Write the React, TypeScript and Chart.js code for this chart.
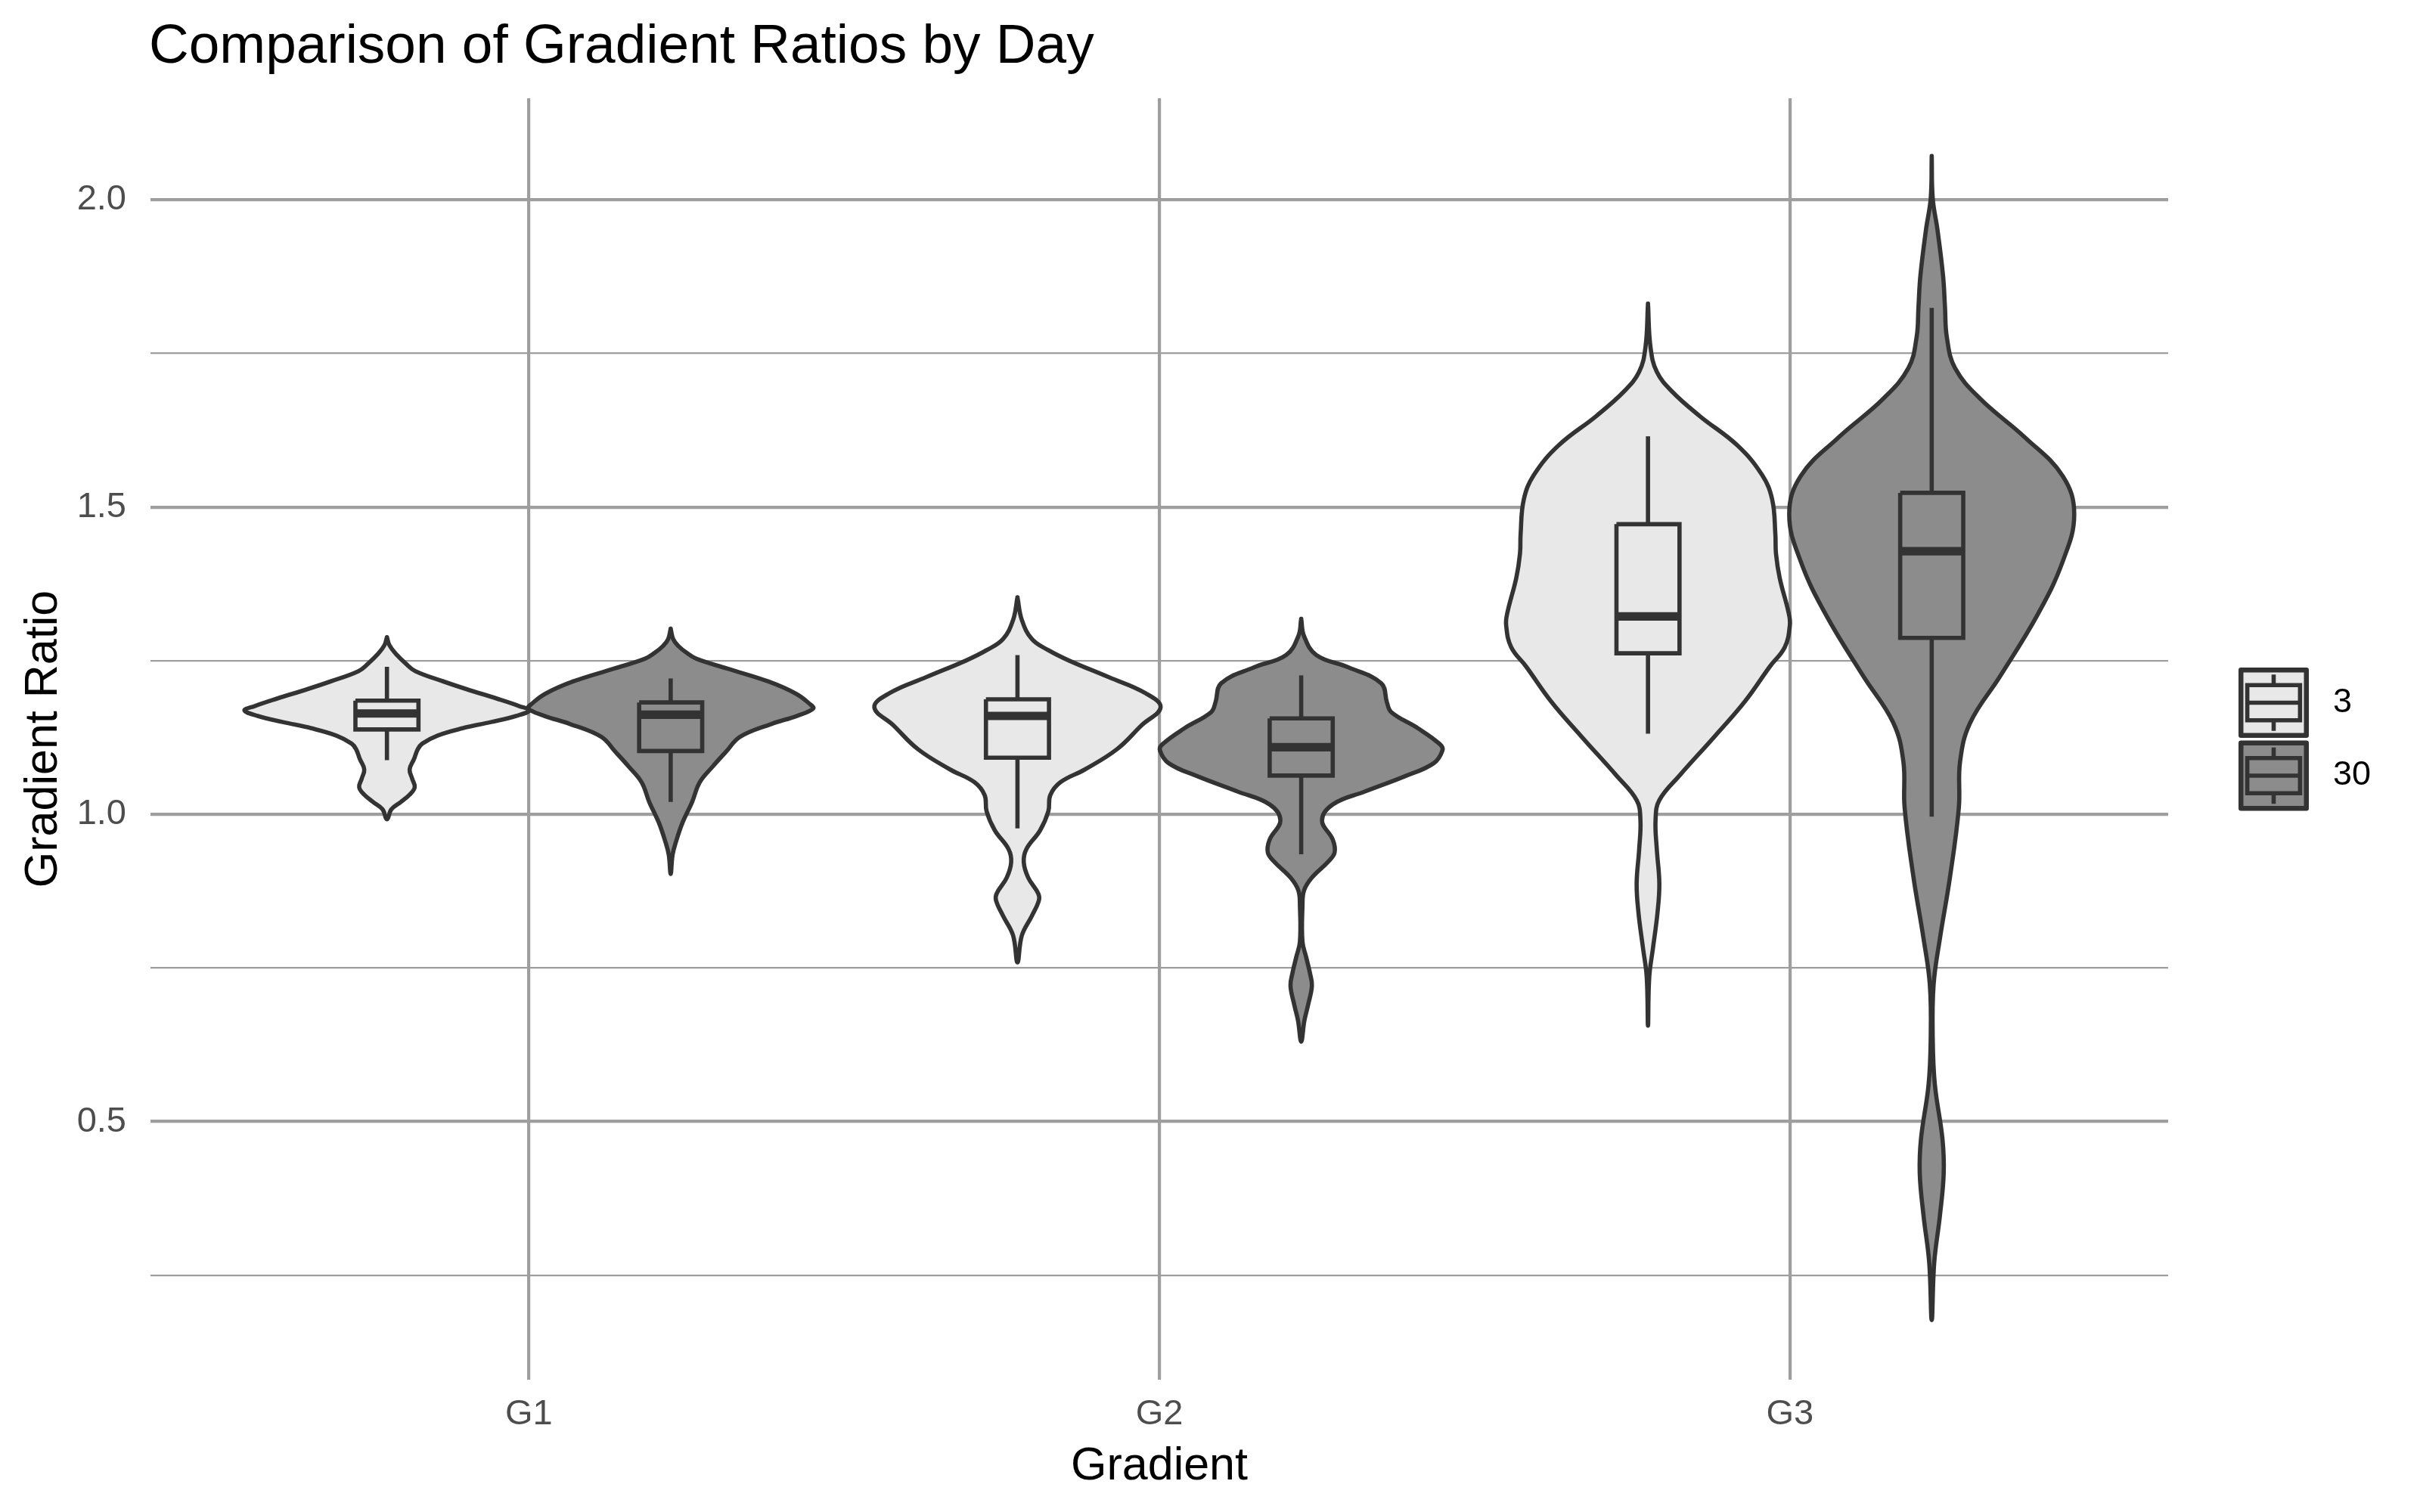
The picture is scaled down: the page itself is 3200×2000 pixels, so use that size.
import { useEffect, useRef } from 'react';
import { Chart, registerables } from 'chart.js';

Chart.register(...registerables);

const FONT = '"Liberation Sans", Arial, Helvetica, sans-serif';

const titleText = 'Comparison of Gradient Ratios by Day';
const xTitle = 'Gradient';
const yTitle = 'Gradient Ratio';

const gradients = ['G1', 'G2', 'G3'];
const days = ['3', '30'];
const dayFills = ['#E8E8E8', '#8C8C8C'];
const yTickValues = [0.25, 0.5, 0.75, 1.0, 1.25, 1.5, 1.75, 2.0];

// violin profiles: ratio values (top -> bottom) and half-widths (in category units)
const g1d3Y = [1.288, 1.275, 1.26, 1.245, 1.233, 1.216, 1.204, 1.188, 1.176, 1.169, 1.16, 1.15, 1.14, 1.128, 1.115, 1.106, 1.09, 1.073, 1.058, 1.044, 1.032, 1.02, 1.008, 0.992];
const g1d3W = [0, 0.004, 0.015, 0.03, 0.045, 0.09, 0.125, 0.175, 0.21, 0.226, 0.205, 0.165, 0.12, 0.08, 0.056, 0.049, 0.043, 0.036, 0.04, 0.044, 0.036, 0.022, 0.007, 0];

const g1d30Y = [1.302, 1.285, 1.274, 1.263, 1.253, 1.237, 1.216, 1.196, 1.18, 1.172, 1.16, 1.147, 1.126, 1.102, 1.077, 1.052, 1.02, 0.987, 0.954, 0.934, 0.903];
const g1d30W = [0, 0.004, 0.012, 0.025, 0.041, 0.09, 0.155, 0.199, 0.22, 0.226, 0.2, 0.16, 0.11, 0.088, 0.066, 0.046, 0.034, 0.019, 0.008, 0.003, 0];

const g2d3Y = [1.353, 1.316, 1.285, 1.267, 1.25, 1.223, 1.197, 1.174, 1.145, 1.106, 1.073, 1.052, 1.031, 1.005, 0.974, 0.943, 0.922, 0.897, 0.871, 0.86, 0.835, 0.803, 0.759];
const g2d3W = [0, 0.007, 0.023, 0.049, 0.082, 0.145, 0.203, 0.227, 0.197, 0.158, 0.107, 0.068, 0.052, 0.049, 0.036, 0.014, 0.01, 0.017, 0.033, 0.034, 0.023, 0.007, 0];

const g2d30Y = [1.318, 1.29, 1.259, 1.239, 1.213, 1.182, 1.166, 1.14, 1.114, 1.104, 1.083, 1.062, 1.037, 1.016, 0.99, 0.959, 0.938, 0.923, 0.897, 0.876, 0.85, 0.793, 0.767, 0.741, 0.721, 0.69, 0.664, 0.63];
const g2d30W = [0, 0.0045, 0.024, 0.075, 0.127, 0.136, 0.143, 0.185, 0.22, 0.224, 0.21, 0.165, 0.101, 0.05, 0.033, 0.05, 0.053, 0.043, 0.017, 0.0045, 0.002, 0.002, 0.008, 0.014, 0.017, 0.011, 0.005, 0];

const g3d3Y = [1.831, 1.76, 1.72, 1.688, 1.648, 1.6, 1.552, 1.512, 1.456, 1.424, 1.384, 1.328, 1.308, 1.272, 1.24, 1.184, 1.127, 1.063, 1.023, 0.991, 0.943, 0.887, 0.839, 0.783, 0.735, 0.656];
const g3d3W = [0, 0.004, 0.014, 0.038, 0.082, 0.142, 0.181, 0.197, 0.202, 0.203, 0.209, 0.223, 0.225, 0.217, 0.193, 0.154, 0.106, 0.05, 0.018, 0.012, 0.014, 0.018, 0.015, 0.008, 0.002, 0];

const g3d30Y = [2.071, 2.002, 1.952, 1.876, 1.826, 1.776, 1.726, 1.676, 1.613, 1.55, 1.488, 1.412, 1.325, 1.224, 1.149, 1.086, 1.011, 0.898, 0.798, 0.723, 0.635, 0.56, 0.472, 0.416, 0.347, 0.271, 0.177];
const g3d30W = [0, 0.0016, 0.009, 0.018, 0.021, 0.024, 0.037, 0.077, 0.148, 0.208, 0.226, 0.208, 0.168, 0.108, 0.061, 0.045, 0.043, 0.029, 0.013, 0.003, 0.0016, 0.005, 0.017, 0.019, 0.013, 0.004, 0];

// box stats: [lower whisker, Q1, median, Q3, upper whisker]
const g1d3Box = [1.088, 1.138, 1.164, 1.185, 1.24];
const g1d30Box = [1.02, 1.103, 1.162, 1.182, 1.221];
const g2d3Box = [0.977, 1.092, 1.16, 1.187, 1.259];
const g2d30Box = [0.935, 1.063, 1.109, 1.156, 1.226];
const g3d3Box = [1.131, 1.262, 1.322, 1.472, 1.615];
const g3d30Box = [0.996, 1.287, 1.428, 1.523, 1.824];

const groups = [
  { g: 0, d: 0, ys: g1d3Y, ws: g1d3W, box: g1d3Box },
  { g: 0, d: 1, ys: g1d30Y, ws: g1d30W, box: g1d30Box },
  { g: 1, d: 0, ys: g2d3Y, ws: g2d3W, box: g2d3Box },
  { g: 1, d: 1, ys: g2d30Y, ws: g2d30W, box: g2d30Box },
  { g: 2, d: 0, ys: g3d3Y, ws: g3d3W, box: g3d3Box },
  { g: 2, d: 1, ys: g3d30Y, ws: g3d30W, box: g3d30Box },
];

const OUTLINE = '#333333';
const GRID = '#9E9E9E';
const DODGE = 0.225;
const BOX_HALF = 0.05;

function isMajor(v: any) {
  if (v === undefined || v === null) return false;
  return Math.abs(v * 2 - Math.round(v * 2)) < 1e-6;
}

function buildDatasets() {
  const violinSets: any[] = [];
  const boxSets: any[] = [];
  groups.forEach((grp) => {
    const c = grp.g + 1 + (grp.d === 0 ? -DODGE : DODGE);
    const fill = dayFills[grp.d];
    const pts: { x: number; y: number }[] = [];
    for (let i = 0; i < grp.ys.length; i++) pts.push({ x: c - grp.ws[i], y: grp.ys[i] });
    for (let i = grp.ys.length - 2; i >= 0; i--) pts.push({ x: c + grp.ws[i], y: grp.ys[i] });
    violinSets.push({
      type: 'line',
      data: pts,
      borderColor: OUTLINE,
      borderWidth: 5.6,
      backgroundColor: fill,
      fill: 'shape',
      tension: 0.4,
      pointRadius: 0,
      borderJoinStyle: 'round',
      borderCapStyle: 'round',
      order: 10,
    });
    const [lo, q1, med, q3, hi] = grp.box;
    boxSets.push({
      type: 'line',
      data: [{ x: c, y: q3 }, { x: c, y: hi }],
      borderColor: OUTLINE, borderWidth: 5.6, pointRadius: 0, fill: false, borderCapStyle: 'butt', order: 3,
    });
    boxSets.push({
      type: 'line',
      data: [{ x: c, y: q1 }, { x: c, y: lo }],
      borderColor: OUTLINE, borderWidth: 5.6, pointRadius: 0, fill: false, borderCapStyle: 'butt', order: 3,
    });
    boxSets.push({
      type: 'line',
      data: [
        { x: c - BOX_HALF, y: q3 },
        { x: c + BOX_HALF, y: q3 },
        { x: c + BOX_HALF, y: q1 },
        { x: c - BOX_HALF, y: q1 },
        { x: c - BOX_HALF, y: q3 },
      ],
      borderColor: OUTLINE, borderWidth: 5.6, backgroundColor: fill, fill: 'shape', pointRadius: 0,
      borderJoinStyle: 'miter', tension: 0, order: 2,
    });
    boxSets.push({
      type: 'line',
      data: [{ x: c - BOX_HALF, y: med }, { x: c + BOX_HALF, y: med }],
      borderColor: OUTLINE, borderWidth: 11.2, pointRadius: 0, fill: false, borderCapStyle: 'butt', order: 1,
    });
  });
  return [...violinSets, ...boxSets];
}

const decorPlugin = {
  id: 'decor',
  afterDraw(chart: any) {
    const ctx = chart.ctx as CanvasRenderingContext2D;
    const a = chart.chartArea;
    ctx.save();
    ctx.fillStyle = '#000000';
    ctx.textBaseline = 'alphabetic';
    ctx.textAlign = 'left';
    ctx.font = `73px ${FONT}`;
    ctx.fillText(titleText, 197, 83);

    ctx.font = `61px ${FONT}`;
    ctx.textAlign = 'center';
    ctx.fillText(xTitle, (a.left + a.right) / 2, 1957);
    ctx.save();
    ctx.translate(75, (a.top + a.bottom) / 2);
    ctx.rotate(-Math.PI / 2);
    ctx.fillText(yTitle, 0, 0);
    ctx.restore();

    // legend
    const S = 93;
    const cx = 3006.5;
    const centers = [929.5, 1026];
    days.forEach((lab, i) => {
      const cy = centers[i];
      ctx.lineJoin = 'round';
      ctx.lineWidth = 6.5;
      ctx.strokeStyle = OUTLINE;
      ctx.fillStyle = dayFills[i];
      const ins = 3.25;
      ctx.beginPath();
      ctx.rect(cx - S / 2 + ins, cy - S / 2 + ins, S - 2 * ins, S - 2 * ins);
      ctx.fill();
      ctx.stroke();
      ctx.lineWidth = 5.6;
      ctx.lineJoin = 'miter';
      ctx.lineCap = 'butt';
      ctx.beginPath();
      ctx.moveTo(cx, cy - 0.4 * S);
      ctx.lineTo(cx, cy - 0.25 * S);
      ctx.moveTo(cx, cy + 0.25 * S);
      ctx.lineTo(cx, cy + 0.4 * S);
      ctx.stroke();
      ctx.beginPath();
      ctx.rect(cx - 0.375 * S, cy - 0.25 * S, 0.75 * S, 0.5 * S);
      ctx.fill();
      ctx.stroke();
      ctx.beginPath();
      ctx.moveTo(cx - 0.375 * S, cy);
      ctx.lineTo(cx + 0.375 * S, cy);
      ctx.stroke();
      ctx.fillStyle = '#000000';
      ctx.font = `45px ${FONT}`;
      ctx.textAlign = 'left';
      ctx.textBaseline = 'middle';
      ctx.fillText(lab, 3085, cy);
    });
    ctx.restore();
  },
};

export default function App() {
  const ref = useRef<HTMLCanvasElement | null>(null);
  useEffect(() => {
    if (!ref.current) return;
    const tickFont = { family: FONT, size: 47 };
    const chart = new Chart(ref.current, {
      type: 'line',
      data: { datasets: buildDatasets() as any },
      options: {
        animation: false,
        responsive: false,
        devicePixelRatio: 1,
        events: [],
        layout: { padding: { top: 130, right: 333, left: 0, bottom: 0 } },
        plugins: {
          legend: { display: false },
          tooltip: { enabled: false },
          title: { display: false },
        },
        scales: {
          x: {
            type: 'linear',
            min: 0.4,
            max: 3.6,
            afterBuildTicks: (s: any) => {
              s.ticks = gradients.map((_, i) => ({ value: i + 1 }));
            },
            afterFit: (s: any) => {
              s.height = 175;
            },
            ticks: {
              autoSkip: false,
              maxRotation: 0,
              padding: 18,
              color: '#4D4D4D',
              font: tickFont,
              callback: (v: any) => gradients[Math.round(Number(v)) - 1] ?? '',
            },
            grid: { color: GRID, lineWidth: 4.2, drawTicks: false },
            border: { display: false },
          },
          y: {
            type: 'linear',
            min: 0.08,
            max: 2.165,
            afterBuildTicks: (s: any) => {
              s.ticks = yTickValues.map((v) => ({ value: v }));
            },
            afterFit: (s: any) => {
              s.width = 199;
            },
            ticks: {
              autoSkip: false,
              padding: 32,
              color: '#4D4D4D',
              font: tickFont,
              callback: (v: any) => (isMajor(Number(v)) ? Number(v).toFixed(1) : ''),
            },
            grid: {
              color: GRID,
              lineWidth: (ctx: any) => (isMajor(ctx.tick ? ctx.tick.value : undefined) ? 4.2 : 2.3),
              drawTicks: false,
            },
            border: { display: false },
          },
        },
      } as any,
      plugins: [decorPlugin],
    });
    return () => chart.destroy();
  }, []);
  return (
    <div style={{ position: 'fixed', left: 0, top: 0, width: 3200, height: 2000, background: '#ffffff' }}>
      <canvas ref={ref} width={3200} height={2000} style={{ display: 'block', width: 3200, height: 2000 }} />
    </div>
  );
}
